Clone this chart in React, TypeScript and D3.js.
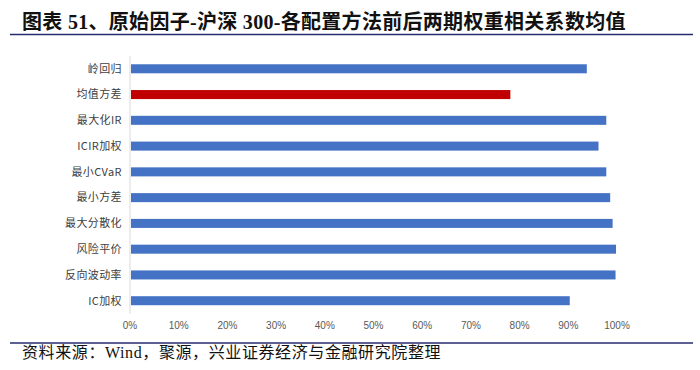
import React from "react";
import * as d3 from "d3";

const categories = ["岭回归", "均值方差", "最大化IR", "ICIR加权", "最小CVaR", "最小方差", "最大分散化", "风险平价", "反向波动率", "IC加权"];
const values = [0.938, 0.781, 0.978, 0.962, 0.978, 0.986, 0.991, 0.998, 0.997, 0.903];
const highlighted = ["均值方差"];
const ticks = [0, 0.1, 0.2, 0.3, 0.4, 0.5, 0.6, 0.7, 0.8, 0.9, 1.0];
const title = "图表 51、原始因子-沪深 300-各配置方法前后两期权重相关系数均值";
const source = "资料来源：Wind，聚源，兴业证券经济与金融研究院整理";

export default function App() {
  const W = 700, H = 370;
  const x = d3.scaleLinear().domain([0, 1]).range([130, 617]);
  const y = d3.scaleBand<string>().domain(categories).range([55.9, 313.6]).paddingInner(0.65).paddingOuter(0.325);
  const fmt = d3.format(".0%");
  const cjk = "'Liberation Serif', 'Noto Sans CJK SC', serif";
  const sans = "'Noto Sans CJK SC', 'Noto Sans', sans-serif";
  return (
    <svg width={W} height={H} style={{ position: "absolute", left: 0, top: 0, background: "#fff" }}>
      <text x={22} y={29} fontFamily={cjk} fontWeight="bold" fontSize={20} letterSpacing={0.3} fill="#111">{title}</text>
      <line x1={10} x2={693} y1={34.5} y2={34.5} stroke="#262b6e" strokeWidth={1.6} />
      {categories.map((c, i) => (
        <g key={c}>
          <rect x={x(0) + 1} y={y(c)!} width={x(values[i]) - x(0) - 1} height={y.bandwidth()} fill={highlighted.includes(c) ? "#c00000" : "#4472c4"} />
          <text x={122} y={y(c)! + y.bandwidth() / 2} dy="0.35em" textAnchor="end" fontFamily={sans} fontSize={11} letterSpacing={0.4} fill="#404040">{c}</text>
        </g>
      ))}
      <line x1={x(0)} x2={x(0)} y1={55.9} y2={313.6} stroke="#d9d9d9" strokeWidth={1} />
      {ticks.map((t) => (
        <text key={t} x={x(t)} y={329} textAnchor="middle" fontFamily="'Liberation Sans', Arial, sans-serif" fontSize={10} fill="#595959">{fmt(t)}</text>
      ))}
      <line x1={10} x2={693} y1={343} y2={343} stroke="#262b6e" strokeWidth={1.6} />
      <text x={22} y={358} fontFamily={cjk} fontSize={16} letterSpacing={0.6} fill="#111">{source}</text>
    </svg>
  );
}
